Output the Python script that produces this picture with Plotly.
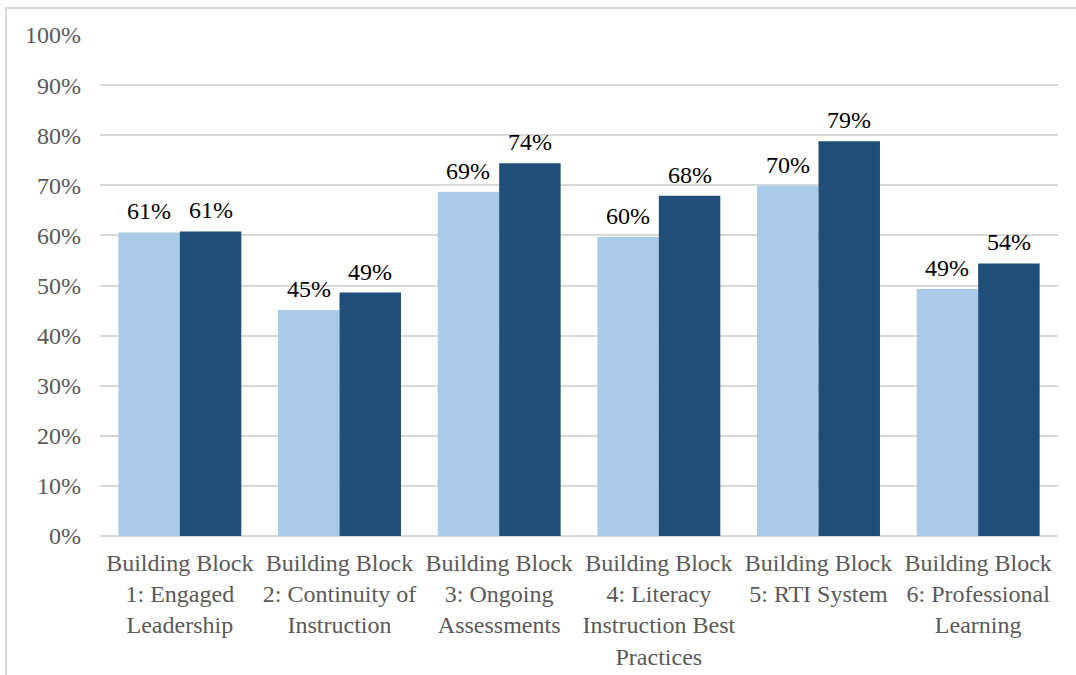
import plotly.graph_objects as go

categories = [
    "Building Block<br>1: Engaged<br>Leadership",
    "Building Block<br>2: Continuity of<br>Instruction",
    "Building Block<br>3: Ongoing<br>Assessments",
    "Building Block<br>4: Literacy<br>Instruction Best<br>Practices",
    "Building Block<br>5: RTI System",
    "Building Block<br>6: Professional<br>Learning",
]
series_a = [0.606, 0.451, 0.687, 0.597, 0.699, 0.493]
series_b = [0.608, 0.486, 0.744, 0.679, 0.788, 0.544]
y_ticks = [0, 0.1, 0.2, 0.3, 0.4, 0.5, 0.6, 0.7, 0.8, 0.9, 1.0]

FONT = "Liberation Serif, Times New Roman, serif"
FS = 24

W, H = 1076, 675
L, R, T, B = 100, 18, 35, 139
pw, ph = W - L - R, H - T - B

bargap = 0.23
cat_px = pw / len(categories)
bar_px = cat_px * (1 - bargap) / 2

fig = go.Figure()
for vals, color, sign in [(series_a, "#A9CBE9", -1), (series_b, "#1F4E79", 1)]:
    fig.add_trace(go.Bar(
        x=categories, y=vals,
        marker=dict(color=color, line=dict(width=0)),
        hoverinfo="skip",
    ))
    for c, v in zip(categories, vals):
        fig.add_annotation(
            x=c, y=v, text=f"{v:.0%}", showarrow=False,
            xanchor="center", yanchor="bottom",
            xshift=sign * bar_px / 2, yshift=6,
            font=dict(family=FONT, size=FS, color="#000000"),
        )

fig.update_layout(
    width=W, height=H,
    margin=dict(l=L, r=R, t=T, b=B, pad=0, autoexpand=False),
    paper_bgcolor="white", plot_bgcolor="white",
    barmode="group", bargap=bargap, bargroupgap=0,
    showlegend=False,
    font=dict(family=FONT, size=FS, color="#595959"),
    xaxis=dict(showgrid=False, showline=False, ticks="", tickangle=0,
               ticklabelstandoff=10, automargin=False,
               tickfont=dict(family=FONT, size=FS, color="#595959")),
    yaxis=dict(range=[0, 1.0], tickvals=y_ticks, tickformat=".0%",
               showgrid=True, gridcolor="#D9D9D9", gridwidth=2,
               zeroline=True, zerolinecolor="#D9D9D9", zerolinewidth=2,
               showline=False, ticks="", ticklabelstandoff=18, automargin=False,
               tickfont=dict(family=FONT, size=FS, color="#595959")),
)

# outer chart border
fig.add_shape(type="rect", xref="paper", yref="paper",
              x0=(6 - L) / pw, x1=(1090 - L) / pw,
              y0=(T + ph - 700) / ph, y1=(T + ph - 8) / ph,
              line=dict(color="#D9D9D9", width=2), fillcolor="rgba(0,0,0,0)",
              layer="below")

fig.write_html("out.html")
